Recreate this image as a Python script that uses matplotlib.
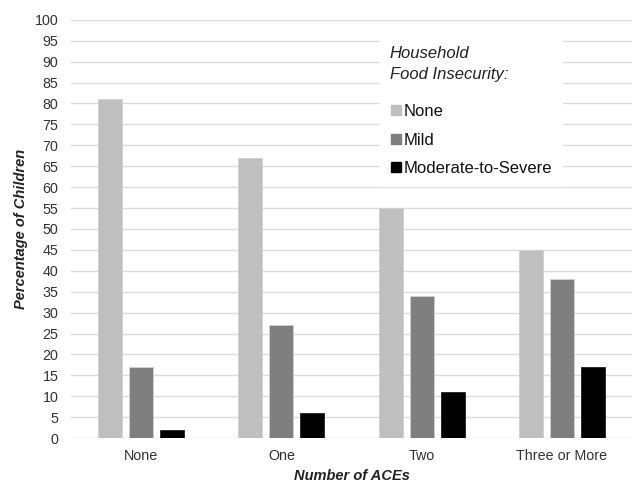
import matplotlib as mpl
mpl.use('Agg')
import matplotlib.pyplot as plt
import numpy as np

plt.rcParams['font.family'] = ['Liberation Sans', 'DejaVu Sans']

# data
categories = ["None", "One", "Two", "Three or More"]
series_names = ["None", "Mild", "Moderate-to-Severe"]
none_vals = [81, 67, 55, 45]
mild_vals = [17, 27, 34, 38]
severe_vals = [2, 6, 11, 17]
colors = ["#bfbfbf", "#7f7f7f", "#000000"]

fig = plt.figure(figsize=(6.34, 4.83), dpi=100)
ax = fig.add_axes([0.112, 0.093, 0.885, 0.866])

x = np.arange(len(categories))
width = 0.171
offset = 0.221
for i, (vals, name) in enumerate(zip([none_vals, mild_vals, severe_vals], series_names)):
    ax.bar(x + (i - 1) * offset, vals, width, color=colors[i], label=name,
           edgecolor="#d0d0d0" if i < 2 else "#202020", linewidth=0.6, zorder=3)

ax.set_xlim(-0.5, 3.5)
ax.set_ylim(0, 100)
ax.set_yticks(range(0, 101, 5))
ax.set_xticks(x)
ax.set_xticklabels(categories)
ax.tick_params(axis='both', length=0, labelsize=10.3, colors="#333333")
ax.tick_params(axis='x', pad=8)
ax.tick_params(axis='y', pad=9)
ax.yaxis.grid(True, color="#dcdcdc", linewidth=1.0, zorder=0)
ax.set_axisbelow(True)
for s in ax.spines.values():
    s.set_visible(False)

ax.set_ylabel("Percentage of Children", fontsize=10.5, fontweight='bold',
              fontstyle='italic', color="#222222", labelpad=5)
ax.set_xlabel("Number of ACEs", fontsize=10.5, fontweight='bold',
              fontstyle='italic', color="#222222", labelpad=4)

handles = [plt.Line2D([], [], marker='s', linestyle='', markersize=7,
                      color=c) for c in colors]
leg = ax.legend(handles, series_names, title="Household\nFood Insecurity:",
                loc='upper left', bbox_to_anchor=(0.535, 0.982),
                frameon=True, fancybox=False, edgecolor='white',
                facecolor='white', framealpha=1.0, fontsize=12,
                handletextpad=0.05, handlelength=0.8, labelspacing=0.82,
                borderpad=0.6, alignment='left')
leg.get_title().set_fontstyle('italic')
leg.get_title().set_fontsize(12)
leg.get_title().set_color("#222222")
leg.get_title().set_linespacing(1.5)
# wider gap between the title and the entries
leg._legend_box.sep = 16
for t in leg.get_texts():
    t.set_color("#111111")
leg.set_zorder(5)

fig.savefig("out.png", dpi=100)
